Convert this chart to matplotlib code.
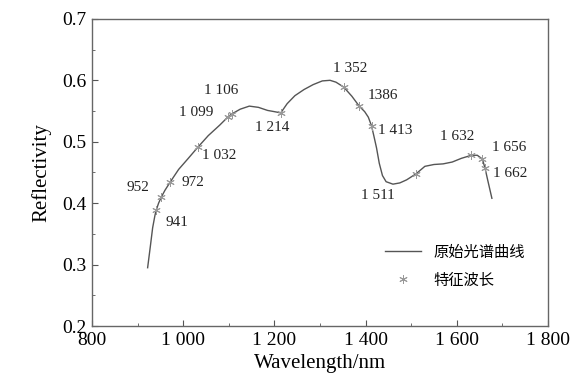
import matplotlib.pyplot as plt
from matplotlib.ticker import MultipleLocator

# spectrum
wavelength = [922, 928, 933, 938, 941, 946, 952, 960, 972, 990, 1010, 1032, 1055, 1080,
              1099, 1106, 1125, 1145, 1165, 1185, 1200, 1214, 1228, 1245, 1265, 1285,
              1305, 1322, 1335, 1352, 1370, 1386, 1398, 1406, 1413, 1418, 1424, 1430,
              1437, 1445, 1460, 1475, 1490, 1511, 1530, 1550, 1570, 1590, 1610, 1632,
              1645, 1656, 1662, 1668, 1677]
reflect = [0.295, 0.330, 0.360, 0.380, 0.389, 0.400, 0.410, 0.421, 0.435, 0.455, 0.472,
           0.491, 0.510, 0.527, 0.541, 0.545, 0.553, 0.558, 0.556, 0.551, 0.549, 0.547,
           0.562, 0.575, 0.585, 0.593, 0.599, 0.600, 0.597, 0.589, 0.574, 0.558, 0.549,
           0.540, 0.526, 0.510, 0.490, 0.465, 0.445, 0.435, 0.431, 0.433, 0.438, 0.448,
           0.460, 0.463, 0.464, 0.467, 0.473, 0.478, 0.478, 0.472, 0.457, 0.437, 0.408]

# characteristic wavelengths
feat_wl = [941, 952, 972, 1032, 1099, 1106, 1214, 1352, 1386, 1413, 1511, 1632, 1656, 1662]
feat_val = [0.389, 0.410, 0.435, 0.491, 0.541, 0.545, 0.547, 0.589, 0.558, 0.526, 0.448,
            0.478, 0.472, 0.457]
feat_text = ['941', '952', '972', '1 032', '1 099', '1 106', '1 214', '1 352', '1386',
             '1 413', '1 511', '1 632', '1 656', '1 662']
# where each label sits (data coords)
text_x = [986, 901, 1021, 1078, 1028, 1083, 1195, 1366, 1438, 1464, 1427, 1600, 1714, 1717]
text_y = [0.368, 0.426, 0.4345, 0.477, 0.547, 0.584, 0.5225, 0.620, 0.575, 0.519, 0.413,
          0.508, 0.490, 0.448]

xticks = [800, 1000, 1200, 1400, 1600, 1800]
xticklabels = ['800', '1 000', '1 200', '1 400', '1 600', '1 800']
yticks = [0.2, 0.3, 0.4, 0.5, 0.6, 0.7]

plt.rcParams['font.family'] = ['Liberation Serif', 'Noto Sans CJK SC']

fig = plt.figure(figsize=(5.75, 3.85), dpi=100)
ax = fig.add_axes([0.16, 0.153, 0.793, 0.798])

line_col = '#555555'
ax.plot(wavelength, reflect, color=line_col, lw=1.0, label='原始光谱曲线')
ax.plot(feat_wl, feat_val, ls='none', marker=(6, 2, 0), ms=6, mew=0.7,
        color='#999999', label='特征波长')

for t, x, y in zip(feat_text, text_x, text_y):
    ax.text(x, y, t, fontsize=11, ha='center', va='center', color='#222222')

ax.set_xlim(800, 1800)
ax.set_ylim(0.2, 0.7)
ax.set_xticks(xticks)
ax.set_xticklabels(xticklabels)
ax.set_yticks(yticks)
ax.set_yticklabels(['%.1f' % v for v in yticks])
ax.xaxis.set_minor_locator(MultipleLocator(100))
ax.yaxis.set_minor_locator(MultipleLocator(0.05))
ax.tick_params(which='both', direction='in', top=False, right=False,
               labelsize=14, color='#555555', pad=4)
ax.tick_params(which='major', length=4)
ax.tick_params(which='minor', length=2.5)
for s in ax.spines.values():
    s.set_color('#666666')
    s.set_linewidth(1.0)

ax.set_xlabel('Wavelength/nm', fontsize=15, labelpad=4)
ax.set_ylabel('Reflectivity', fontsize=15, labelpad=8)

leg = ax.legend(loc='lower right', bbox_to_anchor=(0.98, 0.08), frameon=False,
                fontsize=11, handlelength=2.4, labelspacing=0.9)

fig.savefig('out.png', dpi=100)
